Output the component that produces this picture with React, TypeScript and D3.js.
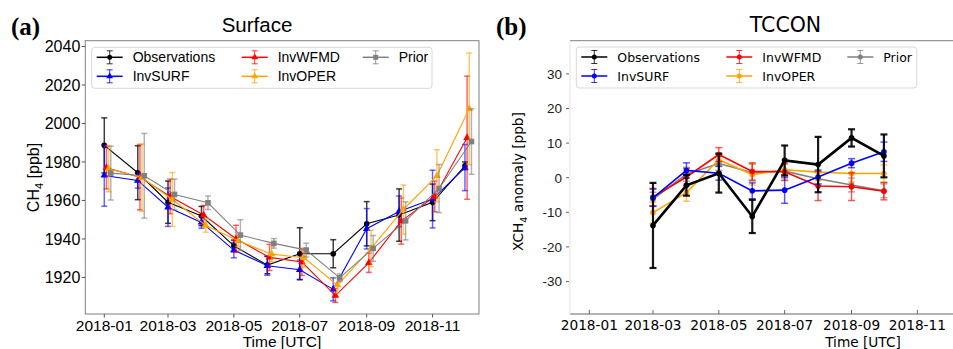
import React from "react";
import * as d3 from "d3";

// monthly time stamps (first of month, 2018)
const monthsSurface = d3.range(0, 12).map(m => new Date(Date.UTC(2018, m, 1)));
const monthsTccon = d3.range(2, 10).map(m => new Date(Date.UTC(2018, m, 1)));

const seriesNames = ["Observations", "InvSURF", "InvWFMD", "InvOPER", "Prior"];
const seriesColors = ["#000000", "#0000ff", "#ff0000", "#ffa500", "#808080"];
const dayOffsets = [0, 0, 2, 4, 6];

// (a) Surface CH4 [ppb]
const surfObs = [1988.6, 1974.4, 1959.1, 1951.9, 1936.4, 1926.4, 1932.3, 1932.3, 1947.9, 1952.4, 1959.0, 1978.0];
const surfObsErr = [14.3, 14, 11, 5, 3, 4.5, 13.5, 7.3, 11.5, 13.6, 9.5, 2];
const surfInvSurf = [1973.0, 1970.4, 1956.5, 1948.6, 1934.2, 1926.1, 1924.0, 1913.8, 1945.3, 1954.3, 1960.7, 1977.1];
const surfInvSurfErr = [16, 4, 10, 3, 4, 5, 5, 6, 10.5, 8, 15, 12];
const surfInvWfmd = [1977.0, 1972.1, 1962.1, 1952.4, 1940.1, 1930.4, 1928.0, 1910.6, 1927.6, 1949.3, 1962.1, 1992.6];
const surfInvWfmdErr = [11, 17, 9, 5, 7, 6.8, 7, 3.6, 5, 12, 8, 32];
const surfInvOper = [1976.5, 1971.8, 1960.5, 1947.0, 1939.0, 1932.1, 1930.2, 1916.0, 1935.1, 1955.3, 1972.8, 2007.6];
const surfInvOperErr = [12, 17.5, 14, 3.5, 3, 4, 5, 4, 9.5, 12.7, 13.5, 29];
const surfPrior = [1974.2, 1972.8, 1963.1, 1958.8, 1942.0, 1937.7, 1934.2, 1919.8, 1935.1, 1949.4, 1966.2, 1990.6];
const surfPriorErr = [14, 22, 8, 3.5, 8, 2.5, 3.6, 2, 6.7, 9.9, 12.5, 17];

// (b) TCCON XCH4 anomaly [ppb]
const tcObs = [-13.8, -2.2, 1.3, -11.2, 5.0, 3.8, 11.5, 6.3];
const tcObsErr = [12.3, 3, 5.6, 4.8, 4.3, 8, 2.5, 6.2];
const tcInvSurf = [-5.8, 2.1, 1.3, -3.8, -3.6, 0.2, 4.2, 7.5];
const tcInvSurfErr = [2.5, 2.2, 2, 2.3, 3.8, 2, 1.3, 2.8];
const tcInvWfmd = [-5.6, 0.2, 6.7, 1.8, 1.7, -2.4, -2.6, -3.9];
const tcInvWfmdErr = [2.5, 2.5, 2, 2.5, 2.5, 4.2, 4, 2.5];
const tcInvOper = [-10.1, -4.3, 5.2, 0.9, 2.3, 1.6, 1.2, 1.2];
const tcInvOperErr = [3, 2.5, 2, 3, 3, 2.5, 2.5, 2.5];
const tcPrior = [-6.2, 1.0, 4.1, 1.5, 1.9, -0.3, -2.1, -3.8];
const tcPriorErr = [2, 2, 2, 2.5, 2, 2, 2, 2];

const surfYTicks = [1920, 1940, 1960, 1980, 2000, 2020, 2040];
const tcYTicks = [-30, -20, -10, 0, 10, 20, 30];
const xTickDates = [0, 2, 4, 6, 8, 10].map(m => new Date(Date.UTC(2018, m, 1)));

const fmt = d3.utcFormat("%Y-%m");
const addDays = (d: Date, n: number) => new Date(d.getTime() + n * 86400000);

type Series = { values: number[]; errs: number[] };

const ARIAL = "'Liberation Sans', Arial, sans-serif";
const DEJAVU = "'DejaVu Sans', sans-serif";

function Marker({ kind, x, y, color, size }: { kind: string; x: number; y: number; color: string; size: number }) {
  if (kind === "square") {
    return <rect x={x - size} y={y - size} width={size * 2} height={size * 2} fill={color} />;
  }
  if (kind === "triangle") {
    const p = d3.symbol(d3.symbolTriangle, size * size * 3.2)();
    return <path d={p || ""} transform={`translate(${x},${y})`} fill={color} />;
  }
  return <circle cx={x} cy={y} r={size} fill={color} />;
}

function Legend({ x0, y0, w, font, fontSize, markers }: { x0: number; y0: number; w: number; font: string; fontSize: number; markers: string[] }) {
  const cols = [
    { lx: 5, items: [0, 1] },
    { lx: 150, items: [2, 3] },
    { lx: 271, items: [4] },
  ];
  return (
    <g>
      <rect x={x0} y={y0} width={w} height={41} rx={3} fill="#fff" fillOpacity={0.8} stroke="#d9d9d9" />
      {cols.map((c, ci) =>
        c.items.map((si, ri) => {
          const ly = y0 + 10 + ri * 19;
          const lx = x0 + c.lx;
          const col = seriesColors[si];
          return (
            <g key={`${ci}-${ri}`}>
              <line x1={lx} x2={lx + 26} y1={ly} y2={ly} stroke={col} strokeWidth={1.5} />
              <g stroke={col} strokeOpacity={0.8}>
                <line x1={lx + 13} x2={lx + 13} y1={ly - 6.5} y2={ly + 6.5} />
                <line x1={lx + 10} x2={lx + 16} y1={ly - 6.5} y2={ly - 6.5} />
                <line x1={lx + 10} x2={lx + 16} y1={ly + 6.5} y2={ly + 6.5} />
              </g>
              <Marker kind={markers[si]} x={lx + 13} y={ly} color={col} size={2.5} />
              <text x={lx + 36} y={ly} dy="0.36em" fontFamily={font} fontSize={fontSize} fill="#000">
                {seriesNames[si]}
              </text>
            </g>
          );
        })
      )}
    </g>
  );
}

function SurfacePanel() {
  const left = 85.3, right = 479, top = 40.7, bottom = 314;
  const x = d3.scaleUtc()
    .domain([addDays(new Date(Date.UTC(2018, 0, 1)), -17.6), addDays(new Date(Date.UTC(2018, 0, 1)), 347)])
    .range([left, right]);
  const y = d3.scaleLinear().domain([1901, 2043]).range([bottom, top]);
  const series: Series[] = [
    { values: surfObs, errs: surfObsErr },
    { values: surfInvSurf, errs: surfInvSurfErr },
    { values: surfInvWfmd, errs: surfInvWfmdErr },
    { values: surfInvOper, errs: surfInvOperErr },
    { values: surfPrior, errs: surfPriorErr },
  ];
  const markers = ["circle", "triangle", "triangle", "triangle", "square"];
  const line = d3.line<[Date, number]>().x(d => x(d[0])).y(d => y(d[1]));
  return (
    <g>
      <text x={11} y={35} fontFamily="'Liberation Serif', 'DejaVu Serif', serif" fontWeight="bold" fontSize={25}>(a)</text>
      <text x={257} y={32} textAnchor="middle" fontFamily={ARIAL} fontSize={20.5}>Surface</text>
      {series.map((s, si) => {
        const pts: [Date, number][] = s.values.map((v, i) => [addDays(monthsSurface[i], dayOffsets[si]), v]);
        const col = seriesColors[si];
        return (
          <g key={si}>
            <g stroke={col} strokeOpacity={si === 0 ? 0.75 : 0.6} strokeWidth={1.5}>
              {pts.map((p, i) => {
                const px = x(p[0]);
                return (
                  <g key={i}>
                    <line x1={px} x2={px} y1={y(p[1] - s.errs[i])} y2={y(p[1] + s.errs[i])} />
                    <line x1={px - 3} x2={px + 3} y1={y(p[1] - s.errs[i])} y2={y(p[1] - s.errs[i])} />
                    <line x1={px - 3} x2={px + 3} y1={y(p[1] + s.errs[i])} y2={y(p[1] + s.errs[i])} />
                  </g>
                );
              })}
            </g>
            <path d={line(pts) || ""} fill="none" stroke={col} strokeWidth={1.1} />
            {pts.map((p, i) => (
              <Marker key={i} kind={markers[si]} x={x(p[0])} y={y(p[1])} color={col} size={2.8} />
            ))}
          </g>
        );
      })}
      <rect x={left} y={top} width={right - left} height={bottom - top} fill="none" stroke="#808080" strokeWidth={1} />
      {surfYTicks.map(t => (
        <g key={t} transform={`translate(0,${y(t)})`}>
          <line x1={left - 3.5} x2={left} stroke="#555" />
          <text x={left - 5} dy="0.36em" textAnchor="end" fontFamily={ARIAL} fontSize={16}>{t}</text>
        </g>
      ))}
      {xTickDates.map((d, i) => (
        <g key={i} transform={`translate(${x(d)},0)`}>
          <line y1={bottom} y2={bottom + 3.5} stroke="#555" />
          <text y={330.5} textAnchor="middle" fontFamily={ARIAL} fontSize={15.5}>{fmt(d)}</text>
        </g>
      ))}
      <text x={282} y={346.5} textAnchor="middle" fontFamily={ARIAL} fontSize={15.5}>Time [UTC]</text>
      <text transform="translate(39,177.5) rotate(-90)" textAnchor="middle" fontFamily={ARIAL} fontSize={16}>
        CH<tspan fontSize={11} dy={4}>4</tspan><tspan dy={-4}> [ppb]</tspan>
      </text>
      <Legend x0={91.7} y0={47.3} w={340.3} font={ARIAL} fontSize={14} markers={markers} />
    </g>
  );
}

function TcconPanel() {
  const left = 570, right = 1001, top = 40.7, bottom = 314;
  const x = d3.scaleUtc()
    .domain([addDays(new Date(Date.UTC(2018, 0, 1)), -17.9), addDays(new Date(Date.UTC(2018, 0, 1)), 381.5)])
    .range([left, right]);
  const y = d3.scaleLinear().domain([-39.4, 39.6]).range([bottom, top]);
  const series: Series[] = [
    { values: tcObs, errs: tcObsErr },
    { values: tcInvSurf, errs: tcInvSurfErr },
    { values: tcInvWfmd, errs: tcInvWfmdErr },
    { values: tcInvOper, errs: tcInvOperErr },
    { values: tcPrior, errs: tcPriorErr },
  ];
  const markers = ["circle", "circle", "circle", "circle", "circle"];
  const line = d3.line<[Date, number]>().x(d => x(d[0])).y(d => y(d[1]));
  const order = [4, 3, 2, 1, 0];
  return (
    <g>
      <text x={496} y={35} fontFamily="'Liberation Serif', 'DejaVu Serif', serif" fontWeight="bold" fontSize={25}>(b)</text>
      <text x={785.5} y={32} textAnchor="middle" fontFamily={DEJAVU} fontSize={20.5}>TCCON</text>
      {order.map(si => {
        const s = series[si];
        const pts: [Date, number][] = s.values.map((v, i) => [monthsTccon[i], v]);
        const col = seriesColors[si];
        const lw = si === 0 ? 2.6 : 1.6;
        return (
          <g key={si}>
            <g stroke={col} strokeOpacity={si === 0 ? 0.9 : 0.65} strokeWidth={si === 0 ? 2.2 : 1.5}>
              {pts.map((p, i) => {
                const px = x(p[0]);
                return (
                  <g key={i}>
                    <line x1={px} x2={px} y1={y(p[1] - s.errs[i])} y2={y(p[1] + s.errs[i])} />
                    <line x1={px - 3.5} x2={px + 3.5} y1={y(p[1] - s.errs[i])} y2={y(p[1] - s.errs[i])} />
                    <line x1={px - 3.5} x2={px + 3.5} y1={y(p[1] + s.errs[i])} y2={y(p[1] + s.errs[i])} />
                  </g>
                );
              })}
            </g>
            <path d={line(pts) || ""} fill="none" stroke={col} strokeWidth={lw} />
            {pts.map((p, i) => (
              <Marker key={i} kind="circle" x={x(p[0])} y={y(p[1])} color={col} size={2.8} />
            ))}
          </g>
        );
      })}
      <line x1={left} x2={right} y1={top} y2={top} stroke="#808080" />
      <line x1={left} x2={right} y1={bottom} y2={bottom} stroke="#666" />
      <line x1={left} x2={left} y1={top} y2={bottom} stroke="#e3e3e3" />
      {tcYTicks.map(t => (
        <g key={t} transform={`translate(0,${y(t)})`}>
          <line x1={left - 4} x2={left - 1} stroke="#666" />
          <text x={left - 8} dy="0.36em" textAnchor="end" fontFamily={ARIAL} fontSize={13.5} fill="#222">{t}</text>
        </g>
      ))}
      {xTickDates.map((d, i) => (
        <g key={i} transform={`translate(${x(d)},0)`}>
          <line y1={bottom} y2={bottom - 4} stroke="#666" />
          <text y={330} textAnchor="middle" fontFamily={DEJAVU} fontSize={13.7}>{fmt(d)}</text>
        </g>
      ))}
      <text x={863} y={346.5} textAnchor="middle" fontFamily={DEJAVU} fontSize={13.7}>Time [UTC]</text>
      <text transform="translate(523,181.5) rotate(-90)" textAnchor="middle" fontFamily={DEJAVU} fontSize={13.7}>
        XCH<tspan fontSize={9.5} dy={3.5}>4</tspan><tspan dy={-3.5}> anomaly [ppb]</tspan>
      </text>
      <Legend x0={576.3} y0={47} w={340.4} font={DEJAVU} fontSize={12.5} markers={markers} />
    </g>
  );
}

export default function App() {
  return (
    <svg width={953} height={349} style={{ position: "absolute", left: 0, top: 0, background: "#fff" }}>
      <rect width={953} height={349} fill="#fff" />
      <SurfacePanel />
      <TcconPanel />
    </svg>
  );
}
